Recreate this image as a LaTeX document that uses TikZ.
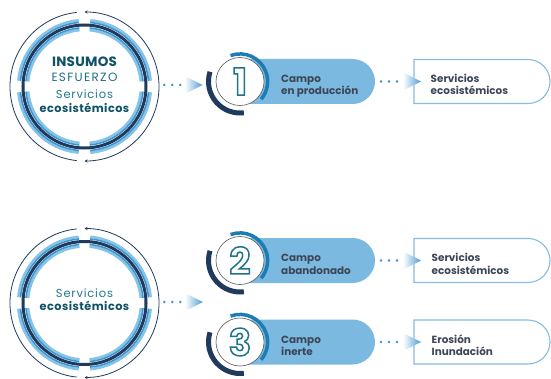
\documentclass[tikz,border=0pt]{standalone}
\usepackage{fontspec}
\setmainfont{Poppins}
\usetikzlibrary{calc,arrows.meta}
\definecolor{navy}{HTML}{1F3A5D}
\definecolor{ringlight}{HTML}{86C3E8}
\definecolor{ringmid}{HTML}{3F95CE}
\definecolor{pillblue}{HTML}{7BB9E0}
\definecolor{arcblue}{HTML}{1B7DB4}
\definecolor{txtdark}{HTML}{3C4656}
\definecolor{tealA}{HTML}{0F5166}
\definecolor{tealB}{HTML}{1F6E80}
\definecolor{tealC}{HTML}{23798D}
\definecolor{boxline}{HTML}{86BCE0}
\definecolor{dotblue}{HTML}{3A8FC8}
\definecolor{triblue}{HTML}{4C9DD5}
\definecolor{digitc}{HTML}{1E7489}
\newcommand\outlinetext[1]{\special{pdf:literal direct 1 Tr 1.5 w}#1\special{pdf:literal direct 0 Tr}}
\tikzset{
  bigc/.style={circle,minimum size=149pt,inner sep=0pt},
  stepc/.style={circle,fill=white,draw=black!65,line width=0.6pt,minimum size=48pt,inner sep=0pt},
  lbl/.style={font=\fontsize{10.4}{12.5}\selectfont\bfseries,text=txtdark,anchor=base west,inner sep=0pt},
  ctext/.style={anchor=base,inner sep=0pt},
  dotsty/.style={dotblue,line width=2.6pt,line cap=round,dash pattern=on 0pt off 8pt},
  digit/.style={font=\fontsize{37}{37}\selectfont\bfseries,text=digitc,inner sep=0pt}
}
\newcommand\BigRing[1]{%
  \begin{scope}[shift={(#1.center)}]
    \foreach \a in {0,90,180,270}{
      \draw[ringlight,line width=2.6pt] (\a+5:66.4) arc[start angle=\a+5,end angle=\a+85,radius=66.4];
      \draw[ringmid,line width=1.6pt] (\a+5:64.3) arc[start angle=\a+5,end angle=\a+85,radius=64.3];
      \draw[ringlight,line width=2.6pt] (\a+5:56.6) arc[start angle=\a+5,end angle=\a+85,radius=56.6];
      \draw[ringmid,line width=1.6pt] (\a+5:58.7) arc[start angle=\a+5,end angle=\a+85,radius=58.7];
    }
    \draw[navy,line width=3pt] (0,0) circle[radius=61.5];
    \draw[navy,line width=0.8pt] (96:74.5) arc[start angle=96,end angle=264,radius=74.5];
    \draw[navy,line width=0.8pt,{Stealth[length=3pt,width=3pt]}-{Stealth[length=3pt,width=3pt]}] (90:74.5) arc[start angle=90,end angle=-90,radius=74.5];
  \end{scope}}
\newcommand\StepBack[1]{%
  \fill[pillblue] ($(#1)+(0,22.5)$) -- ++(112.5,0) arc[start angle=90,end angle=-90,radius=22.5] -- ++(-112.5,0) -- cycle;}
\newcommand\StepArcs[1]{%
  \begin{scope}[shift={(#1.center)}]
    \draw[arcblue,line width=3.5pt] (110:27.6) arc[start angle=110,end angle=-40,radius=27.6];
    \draw[navy,line width=5pt] (162:31.5) arc[start angle=162,end angle=277,radius=31.5];
  \end{scope}}
\newcommand\OutBox[1]{%
  \draw[boxline,line width=1.1pt] ($(#1)+(0,22)$) -- ++(114,0) arc[start angle=90,end angle=-90,radius=22] -- ++(-114,0) -- cycle;}
\newcommand\Conn[2]{%
  \draw[dotsty] (#1) -- ($(#2)+(-22,0)$);
  \shade[left color=white,right color=triblue] ($(#2)+(-18,9)$) -- (#2) -- ($(#2)+(-18,-9)$) -- cycle;}
\begin{document}
\begin{tikzpicture}[x=1pt,y=1pt]
\useasboundingbox (0,0) rectangle (551,378);
% big circles
\node[bigc] (c1) at (84.5,291.5) {};
\node[bigc] (c2) at (84.5,75) {};
\BigRing{c1}
\BigRing{c2}
\node[ctext,text=tealA,font=\fontsize{13.5}{15}\selectfont\bfseries\addfontfeatures{LetterSpace=2}] (c1a) at (84.5,311.3) {INSUMOS};
\node[ctext,text=tealB,font=\fontsize{12}{13}\selectfont\addfontfeatures{LetterSpace=11}] (c1b) at (84.5,296.3) {ESFUERZO};
\node[ctext,text=tealC,font=\fontsize{11.5}{13}\selectfont\addfontfeatures{LetterSpace=7}] (c1c) at (84.5,279) {Servicios};
\node[ctext,text=tealA,font=\fontsize{11.3}{13}\selectfont\bfseries\addfontfeatures{LetterSpace=4}] (c1d) at (84.5,265.3) {ecosistémicos};
\node[ctext,text=tealC,font=\fontsize{11.5}{13}\selectfont\addfontfeatures{LetterSpace=7}] (c2a) at (84.5,80.7) {Servicios};
\node[ctext,text=tealA,font=\fontsize{11.3}{13}\selectfont\bfseries\addfontfeatures{LetterSpace=4}] (c2b) at (84.5,67.3) {ecosistémicos};
% steps
\coordinate (s1c) at (240,296.5);
\coordinate (s2c) at (240,117.5);
\coordinate (s3c) at (240,36);
\StepBack{s1c}
\StepBack{s2c}
\StepBack{s3c}
\node[stepc] (s1) at (s1c) {};
\node[stepc] (s2) at (s2c) {};
\node[stepc] (s3) at (s3c) {};
\StepArcs{s1}
\StepArcs{s2}
\StepArcs{s3}
\node[digit] (d1) at (s1) {\outlinetext{1}};
\node[digit] (d2) at (s2) {\outlinetext{2}};
\node[digit] (d3) at (s3) {\outlinetext{3}};
\node[lbl] (p1a) at (281,295.5) {Campo};
\node[lbl] (p1b) at (281,283) {en producción};
\node[lbl] (p2a) at (281,116.5) {Campo};
\node[lbl] (p2b) at (281,104) {abandonado};
\node[lbl] (p3a) at (281,35) {Campo};
\node[lbl] (p3b) at (281,22.5) {inerte};
% output boxes
\coordinate (o1) at (414,296.5);
\coordinate (o2) at (414,117.5);
\coordinate (o3) at (414,36);
\OutBox{o1}
\OutBox{o2}
\OutBox{o3}
\node[lbl] (b1a) at (430.5,295.5) {Servicios};
\node[lbl] (b1b) at (430.5,283) {ecosistémicos};
\node[lbl] (b2a) at (431.5,116.5) {Servicios};
\node[lbl] (b2b) at (431.5,104) {ecosistémicos};
\node[lbl] (b3a) at (431.5,35) {Erosión};
\node[lbl] (b3b) at (431.5,22.5) {Inundación};
% connectors
\coordinate (k1) at ($(c1.east)+(5,1.5)$);
\coordinate (t1) at ($(s1.west)+(-13,-3.5)$);
\Conn{k1}{t1}
\coordinate (k2) at ($(c2.east)+(5,1)$);
\coordinate (t2) at (203,76);
\Conn{k2}{t2}
\foreach \i in {1,2,3}{
  \coordinate (q\i) at ($(s\i.center)+(141,0)$);
  \coordinate (r\i) at ($(o\i)+(7,0)$);
  \Conn{q\i}{r\i}
}
\end{tikzpicture}
\end{document}
